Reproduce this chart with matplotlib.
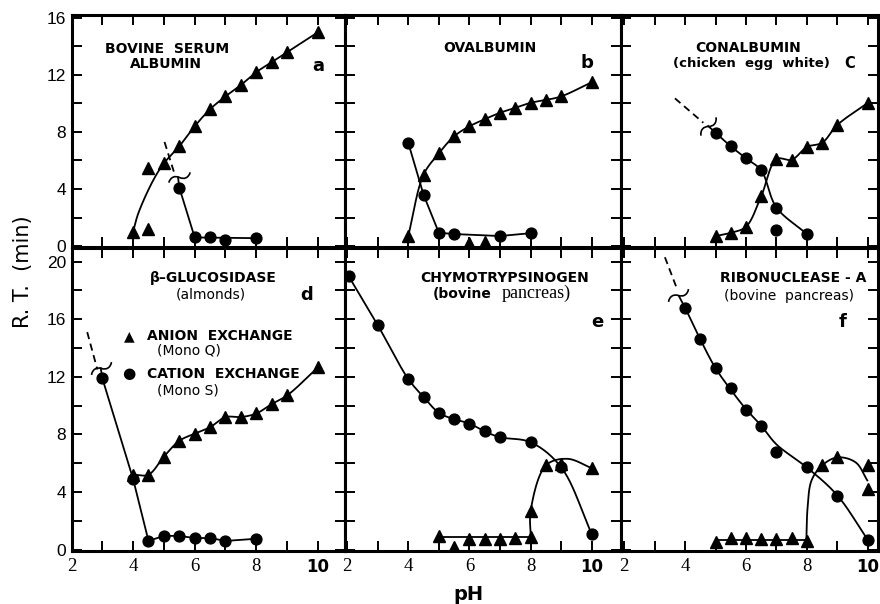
import numpy as np
import matplotlib
matplotlib.use("Agg")
import matplotlib.pyplot as plt
from matplotlib.path import Path
from matplotlib.markers import MarkerStyle
from matplotlib.transforms import Affine2D

# ---------------- data ----------------
# a  Bovine serum albumin
A_ANION_PH = [4.0, 4.5, 4.5, 5.0, 5.5, 6.0, 6.5, 7.0, 7.5, 8.0, 8.5, 9.0, 10.0]
A_ANION_RT = [1.0, 1.2, 5.5, 5.8, 7.0, 8.4, 9.6, 10.5, 11.3, 12.2, 12.9, 13.6, 15.0]
A_CATION_PH = [5.5, 6.0, 6.5, 7.0, 8.0]
A_CATION_RT = [4.1, 0.6, 0.6, 0.4, 0.55]
A_ANION_LINE_PH = [4.0, 4.17, 4.65, 5.0, 5.5, 6.0, 6.5, 7.0, 7.5, 8.0, 8.5, 9.0, 10.0]
A_ANION_LINE_RT = [1.0, 2.3, 4.6, 5.8, 7.0, 8.4, 9.6, 10.5, 11.3, 12.2, 12.9, 13.6, 15.0]
A_CATION_LINE_PH = [5.46, 5.5, 6.0, 8.0]
A_CATION_LINE_RT = [4.8, 4.1, 0.6, 0.55]
A_DASH_PH = [5.02, 5.34]
A_DASH_RT = [7.3, 5.1]
A_BREAK = [5.48, 4.85, 20]

# b  Ovalbumin
B_ANION_PH = [4.0, 4.5, 5.0, 5.5, 6.0, 6.5, 7.0, 7.5, 8.0, 8.5, 9.0, 10.0, 6.0, 6.5]
B_ANION_RT = [0.7, 5.0, 6.5, 7.7, 8.4, 8.9, 9.35, 9.7, 10.05, 10.25, 10.5, 11.5, 0.2, 0.25]
B_CATION_PH = [4.0, 4.5, 5.0, 5.5, 7.0, 8.0]
B_CATION_RT = [7.25, 3.6, 0.93, 0.84, 0.7, 0.9]
B_ANION_LINE_PH = [4.0, 4.5, 5.0, 5.5, 6.0, 6.5, 7.0, 7.5, 8.0, 8.5, 9.0, 10.0]
B_ANION_LINE_RT = [0.7, 5.0, 6.5, 7.7, 8.4, 8.9, 9.35, 9.7, 10.05, 10.25, 10.5, 11.5]
B_CATION_LINE_PH = [4.0, 4.5, 5.0, 5.5, 7.0, 8.0]
B_CATION_LINE_RT = [7.25, 3.6, 0.93, 0.84, 0.7, 0.9]

# c  Conalbumin
C_ANION_PH = [5.0, 5.5, 6.0, 6.5, 7.0, 7.5, 8.0, 8.5, 9.0, 10.0]
C_ANION_RT = [0.7, 0.93, 1.35, 3.5, 6.1, 6.0, 6.95, 7.25, 8.5, 10.05]
C_CATION_PH = [5.0, 5.5, 6.0, 6.5, 7.0, 7.0, 8.0]
C_CATION_RT = [7.95, 7.0, 6.15, 5.3, 2.7, 1.15, 0.85]
C_ANION_LINE_PH = [5.0, 5.5, 6.0, 6.5, 7.0, 7.5, 8.0, 8.5, 9.0, 10.0]
C_ANION_LINE_RT = [0.7, 0.93, 1.35, 3.5, 6.1, 6.05, 6.95, 7.25, 8.5, 10.05]
C_CATION_LINE_PH = [4.76, 5.0, 5.5, 6.0, 6.5, 7.0, 8.0]
C_CATION_LINE_RT = [8.42, 7.95, 7.0, 6.15, 5.3, 2.7, 0.85]
C_DASH_PH = [3.67, 4.6]
C_DASH_RT = [10.36, 8.65]
C_BREAK = [4.74, 8.45, 45]

# d  beta-Glucosidase
D_ANION_PH = [4.0, 4.5, 5.0, 5.5, 6.0, 6.5, 7.0, 7.5, 8.0, 8.5, 9.0, 10.0]
D_ANION_RT = [5.2, 5.2, 6.45, 7.55, 8.05, 8.5, 9.2, 9.2, 9.45, 10.1, 10.7, 12.65]
D_CATION_PH = [3.0, 4.0, 4.5, 5.0, 5.5, 6.0, 6.5, 7.0, 8.0]
D_CATION_RT = [11.9, 4.9, 0.6, 0.95, 0.95, 0.8, 0.8, 0.6, 0.75]
D_ANION_LINE_PH = D_ANION_PH
D_ANION_LINE_RT = D_ANION_RT
D_CATION_LINE_PH = [2.95, 3.0, 4.0, 4.5, 5.0, 5.5, 6.0, 6.5, 7.0, 8.0]
D_CATION_LINE_RT = [12.6, 11.9, 4.9, 0.6, 0.95, 0.95, 0.8, 0.8, 0.6, 0.75]
D_DASH_PH = [2.51, 2.84]
D_DASH_RT = [15.1, 12.5]
D_BREAK = [2.95, 12.64, 27]

# e  Chymotrypsinogen
E_ANION_PH = [5.0, 5.5, 6.0, 6.5, 7.0, 7.5, 8.0, 8.0, 8.5, 9.0, 10.0]
E_ANION_RT = [0.95, 0.2, 0.75, 0.75, 0.75, 0.8, 0.9, 2.7, 5.85, 5.95, 5.65]
E_CATION_PH = [2.05, 3.0, 4.0, 4.5, 5.0, 5.5, 6.0, 6.5, 7.0, 8.0, 9.0, 10.0]
E_CATION_RT = [19.0, 15.6, 11.85, 10.6, 9.5, 9.05, 8.75, 8.2, 7.8, 7.45, 5.7, 1.05]
E_ANION_FLAT_PH = [5.0, 8.0]
E_ANION_FLAT_RT = [0.9, 0.9]
E_ANION_LINE_PH = [8.0, 8.0, 8.5, 9.2, 10.0]
E_ANION_LINE_RT = [0.9, 2.7, 5.85, 6.3, 5.65]
E_CATION_LINE_PH = E_CATION_PH
E_CATION_LINE_RT = E_CATION_RT

# f  Ribonuclease-A
F_ANION_PH = [5.0, 5.5, 6.0, 6.5, 7.0, 7.5, 8.0, 8.5, 9.0, 10.0, 10.0]
F_ANION_RT = [0.5, 0.8, 0.8, 0.75, 0.75, 0.8, 0.6, 5.85, 6.4, 5.85, 4.2]
F_CATION_PH = [4.0, 4.5, 5.0, 5.5, 6.0, 6.5, 7.0, 8.0, 9.0, 10.0]
F_CATION_RT = [16.8, 14.6, 12.6, 11.2, 9.7, 8.55, 6.8, 5.7, 3.75, 0.65]
F_ANION_FLAT_PH = [5.0, 8.0]
F_ANION_FLAT_RT = [0.65, 0.65]
F_ANION_LINE_PH = [7.98, 8.02, 8.15, 8.5, 9.0, 9.6, 9.98]
F_ANION_LINE_RT = [0.65, 2.9, 4.8, 5.85, 6.4, 6.05, 4.8]
F_CATION_LINE_PH = [3.8, 4.0, 4.5, 5.0, 5.5, 6.0, 6.5, 7.0, 8.0, 9.0, 10.0]
F_CATION_LINE_RT = [17.6, 16.8, 14.6, 12.6, 11.1, 9.75, 8.6, 7.3, 5.7, 3.75, 0.65]
F_DASH_PH = [3.34, 3.72]
F_DASH_RT = [20.3, 18.2]
F_BREAK = [3.77, 17.65, 27]

X_TICKS = [2, 3, 4, 5, 6, 7, 8, 9, 10]
X_TICK_LABELS = ["2", "", "4", "", "6", "", "8", "", "10"]
TOP_Y_TICKS = [0, 2, 4, 6, 8, 10, 12, 14, 16]
TOP_Y_LABELS = ["0", "", "4", "", "8", "", "12", "", "16"]
BOT_Y_TICKS = [0, 2, 4, 6, 8, 10, 12, 14, 16, 18, 20]
BOT_Y_LABELS = ["0", "", "4", "", "8", "", "12", "", "16", "", "20"]

# ---------------- helpers ----------------
W, H = 880, 604


def fx(px):
    return px / W


def fy(py):
    return 1 - py / H


def smooth(xs, ys, sx=30.7, sy=14.3, n=25):
    P = np.column_stack([np.asarray(xs, float) * sx, np.asarray(ys, float) * sy])
    if len(P) < 3:
        return np.asarray(xs), np.asarray(ys)
    P = np.vstack([2 * P[0] - P[1], P, 2 * P[-1] - P[-2]])
    out = []

    def tj(ti, a, b):
        return ti + max(np.hypot(*(b - a)), 1e-6) ** 0.5

    for i in range(1, len(P) - 2):
        p0, p1, p2, p3 = P[i - 1], P[i], P[i + 1], P[i + 2]
        t0 = 0.0
        t1 = tj(t0, p0, p1)
        t2 = tj(t1, p1, p2)
        t3 = tj(t2, p2, p3)
        t = np.linspace(t1, t2, n)[:, None]
        A1 = (t1 - t) / (t1 - t0) * p0 + (t - t0) / (t1 - t0) * p1
        A2 = (t2 - t) / (t2 - t1) * p1 + (t - t1) / (t2 - t1) * p2
        A3 = (t3 - t) / (t3 - t2) * p2 + (t - t2) / (t3 - t2) * p3
        B1 = (t2 - t) / (t2 - t0) * A1 + (t - t0) / (t2 - t0) * A2
        B2 = (t3 - t) / (t3 - t1) * A2 + (t - t1) / (t3 - t1) * A3
        C = (t2 - t) / (t2 - t1) * B1 + (t - t1) / (t2 - t1) * B2
        out.append(C if i == 1 else C[1:])
    C = np.vstack(out)
    return C[:, 0] / sx, C[:, 1] / sy


# tilde-shaped axis-break symbol
WAVE = Path([(-1, -0.1), (-0.7, 0.3), (-0.3, 0.3), (0, 0),
             (0.3, -0.3), (0.7, -0.3), (1, 0.1)],
            [Path.MOVETO, Path.CURVE4, Path.CURVE4, Path.CURVE4,
             Path.CURVE4, Path.CURVE4, Path.CURVE4])

LW = 1.3
fig = plt.figure(figsize=(8.8, 6.04), dpi=100)

cols = [(71.5, 345, 2.0, 10.88), (345, 621, 1.935, 10.95), (621, 878, 1.9, 10.33)]
rows = [(15, 247, -0.07, 16.21), (248, 551, -0.1, 20.94)]

panels = [
    dict(r=0, c=0, tri=(A_ANION_PH, A_ANION_RT), cir=(A_CATION_PH, A_CATION_RT),
         smooth=[(A_ANION_LINE_PH, A_ANION_LINE_RT)],
         straight=[(A_CATION_LINE_PH, A_CATION_LINE_RT)],
         dash=(A_DASH_PH, A_DASH_RT), brk=A_BREAK),
    dict(r=0, c=1, tri=(B_ANION_PH, B_ANION_RT), cir=(B_CATION_PH, B_CATION_RT),
         smooth=[(B_ANION_LINE_PH, B_ANION_LINE_RT)],
         straight=[(B_CATION_LINE_PH, B_CATION_LINE_RT)], dash=None, brk=None),
    dict(r=0, c=2, tri=(C_ANION_PH, C_ANION_RT), cir=(C_CATION_PH, C_CATION_RT),
         smooth=[(C_ANION_LINE_PH, C_ANION_LINE_RT), (C_CATION_LINE_PH, C_CATION_LINE_RT)],
         straight=[], dash=(C_DASH_PH, C_DASH_RT), brk=C_BREAK),
    dict(r=1, c=0, tri=(D_ANION_PH, D_ANION_RT), cir=(D_CATION_PH, D_CATION_RT),
         smooth=[(D_ANION_LINE_PH, D_ANION_LINE_RT)],
         straight=[(D_CATION_LINE_PH, D_CATION_LINE_RT)],
         dash=(D_DASH_PH, D_DASH_RT), brk=D_BREAK),
    dict(r=1, c=1, tri=(E_ANION_PH, E_ANION_RT), cir=(E_CATION_PH, E_CATION_RT),
         smooth=[(E_ANION_LINE_PH, E_ANION_LINE_RT), (E_CATION_LINE_PH, E_CATION_LINE_RT)],
         straight=[(E_ANION_FLAT_PH, E_ANION_FLAT_RT)], dash=None, brk=None),
    dict(r=1, c=2, tri=(F_ANION_PH, F_ANION_RT), cir=(F_CATION_PH, F_CATION_RT),
         smooth=[(F_ANION_LINE_PH, F_ANION_LINE_RT), (F_CATION_LINE_PH, F_CATION_LINE_RT)],
         straight=[(F_ANION_FLAT_PH, F_ANION_FLAT_RT)],
         dash=(F_DASH_PH, F_DASH_RT), brk=F_BREAK),
]

for p in panels:
    x0, x1, xl0, xl1 = cols[p["c"]]
    y0, y1, yl0, yl1 = rows[p["r"]]
    ax = fig.add_axes([fx(x0), fy(y1), (x1 - x0) / W, (y1 - y0) / H])
    ax.set_xlim(xl0, xl1)
    ax.set_ylim(yl0, yl1)
    for s in ax.spines.values():
        s.set_linewidth(2.2)
    for xs, ys in p["smooth"]:
        sx, sy = smooth(xs, ys)
        ax.plot(sx, sy, color="k", lw=LW, zorder=2)
    for xs, ys in p["straight"]:
        ax.plot(xs, ys, color="k", lw=LW, zorder=2)
    if p["dash"] is not None:
        ax.plot(p["dash"][0], p["dash"][1], color="k", lw=LW, dashes=(4, 2.6), zorder=2)
    if p["brk"] is not None:
        bx, by, ang = p["brk"]
        ms = MarkerStyle(WAVE, fillstyle="none", transform=Affine2D().rotate_deg(ang))
        ax.plot([bx], [by], linestyle="none", marker=ms, ms=17, mec="k", mfc="none", mew=1.2)
    ax.plot(p["tri"][0], p["tri"][1], linestyle="none", marker="^", ms=8.8, color="k", zorder=3)
    ax.plot(p["cir"][0], p["cir"][1], linestyle="none", marker="o", ms=7.8, color="k", zorder=3)

    ax.set_xticks(X_TICKS)
    if p["r"] == 0:
        ax.set_yticks(TOP_Y_TICKS)
        ax.set_yticklabels(TOP_Y_LABELS)
    else:
        ax.set_yticks(BOT_Y_TICKS)
        ax.set_yticklabels(BOT_Y_LABELS)
    ax.tick_params(axis="both", direction="in", length=7.5, width=1.4,
                   top=True, right=True, bottom=True, left=True)
    if p["r"] == 1:
        ax.set_xticklabels(X_TICK_LABELS)
        ax.tick_params(axis="x", pad=5)
        for lab in ax.get_xticklabels():
            if lab.get_text() == "10":
                lab.set_fontfamily("DejaVu Sans")
                lab.set_fontsize(12)
                lab.set_fontweight("bold")
            else:
                lab.set_fontfamily("Liberation Serif")
                lab.set_fontsize(13.5)
    else:
        ax.tick_params(axis="x", labelbottom=False)
    if p["c"] == 0:
        ax.tick_params(axis="y", pad=4)
        for lab in ax.get_yticklabels():
            lab.set_fontfamily("Liberation Sans")
            lab.set_fontsize(12.5)
    else:
        ax.tick_params(axis="y", labelleft=False)

# ---------------- texts ----------------
TF = dict(fontfamily="DejaVu Sans", fontweight="bold", fontsize=10, va="baseline")


def t(px, py, s, **kw):
    d = dict(TF)
    d.update(kw)
    fig.text(fx(px), fy(py), s, **d)


t(105, 53, "BOVINE  SERUM", ha="left")
t(130, 68, "ALBUMIN", ha="left")
t(318, 71, "a", ha="center", fontsize=13)
t(443, 52, "OVALBUMIN", ha="left")
t(587, 68, "b", ha="center", fontsize=13)
t(695, 52, "CONALBUMIN", ha="left")
t(673, 67, "(chicken  egg  white)", ha="left", fontsize=9.5)
t(850, 68, "C", ha="center", fontsize=10.5)

t(213, 282, "β–GLUCOSIDASE", ha="center")
t(211, 298, "(almonds)", ha="center", fontweight="normal")
t(307, 300, "d", ha="center", fontsize=13)
t(129, 340, "▲", ha="center", fontsize=10)
t(147, 340, "ANION  EXCHANGE", ha="left")
t(157, 355, "(Mono Q)", ha="left", fontweight="normal")
t(129, 378, "●", ha="center", fontsize=11)
t(147, 378, "CATION  EXCHANGE", ha="left")
t(157, 394, "(Mono S)", ha="left", fontweight="normal")

t(505, 282, "CHYMOTRYPSINOGEN", ha="center")
t(433, 298, "(bovine", ha="left")
t(502, 298, "pancreas)", ha="left", fontfamily="Liberation Serif", fontweight="normal", fontsize=13)
t(597, 327, "e", ha="center", fontsize=13)

t(793, 282, "RIBONUCLEASE - A", ha="center")
t(789, 300, "(bovine  pancreas)", ha="center", fontweight="normal")
t(843, 327, "f", ha="center", fontsize=13)

fig.text(fx(23), fy(272), "R. T.  (min)", rotation=90, ha="center", va="center",
         fontfamily="DejaVu Sans", fontsize=15)
fig.text(fx(468), fy(595), "pH", ha="center", va="center",
         fontfamily="DejaVu Sans", fontweight="bold", fontsize=14)

fig.savefig("out.png", dpi=100)
